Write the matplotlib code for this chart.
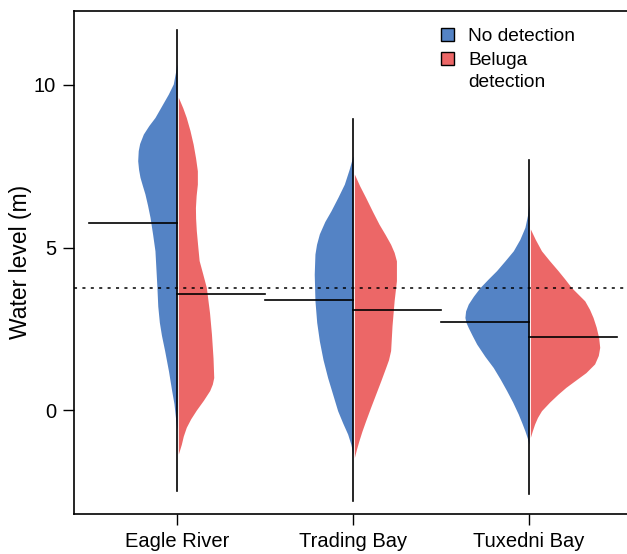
import matplotlib.pyplot as plt
import numpy as np
from matplotlib.patches import Patch

plt.rcParams['font.family'] = ['Liberation Sans', 'DejaVu Sans']

sites = ["Eagle River", "Trading Bay", "Tuxedni Bay"]

# density outlines: water level (m) and half-width (x units)
eagle_no_y = [10.65, 10.4, 10.03, 9.72, 9.35, 9.0, 8.75, 8.49, 8.2, 7.98, 7.67, 7.4, 7.16, 6.9, 6.65,
              6.3, 5.93, 5.4, 4.9, 3.8, 3.2, 2.7, 2.3, 1.83, 1.2, 0.6, 0.2, -0.1, -0.4, -0.6]
eagle_no_w = [0, .008, .021, .049, .088, .125, .160, .191, .212, .220, .223, .218, .210, .196, .182,
              .167, .153, .138, .125, .114, .109, .100, .088, .070, .048, .030, .017, .011, .005, 0]
eagle_bel_y = [9.62, 9.3, 9.0, 8.6, 8.18, 7.75, 7.36, 6.95, 6.6, 6.23, 5.9, 5.52, 5.05, 4.6, 4.2,
               3.77, 3.0, 2.34, 1.6, 1.0, 0.8, 0.6, 0.3, 0.0, -0.27, -0.53, -0.8, -1.05, -1.35]
eagle_bel_w = [0, .025, .045, .066, .084, .098, .108, .108, .101, .097, .098, .102, .110, .118, .138,
               .159, .177, .188, .197, .201, .193, .178, .142, .102, .070, .045, .028, .017, 0]

trading_no_y = [7.82, 7.4, 6.95, 6.55, 6.13, 5.8, 5.42, 5.1, 4.8, 4.18, 3.37, 2.7, 2.13, 1.55, 1.0,
                0.5, -0.02, -0.4, -0.74, -1.05, -1.35]
trading_no_w = [0, .022, .049, .085, .125, .160, .191, .207, .216, .220, .216, .206, .191, .170, .144,
                .116, .087, .058, .030, .012, 0]
trading_bel_y = [7.26, 6.9, 6.54, 6.1, 5.72, 5.4, 5.1, 4.85, 4.59, 3.98, 3.37, 2.6, 1.83, 1.55, 1.31,
                 0.9, 0.49, 0.08, -0.33, -0.65, -0.94, -1.2, -1.46]
trading_bel_w = [0, .030, .064, .104, .140, .175, .206, .226, .239, .239, .226, .214, .206, .194, .178,
                 .150, .121, .092, .064, .043, .026, .012, 0]

tuxedni_no_y = [6.34, 6.0, 5.62, 5.25, 4.9, 4.6, 4.29, 4.03, 3.77, 3.5, 3.26, 3.05, 2.85, 2.7, 2.54,
                2.3, 2.03, 1.65, 1.31, 0.95, 0.6, 0.25, -0.12, -0.4, -0.64, -0.85, -1.05]
tuxedni_no_w = [0, .008, .023, .052, .089, .135, .184, .232, .278, .316, .345, .360, .364, .358, .345,
                .323, .297, .250, .203, .163, .127, .093, .061, .040, .023, .010, 0]
tuxedni_bel_y = [5.57, 5.25, 4.9, 4.6, 4.29, 4.03, 3.77, 3.56, 3.36, 3.1, 2.85, 2.55, 2.23, 1.93, 1.68,
                 1.42, 1.15, 0.9, 0.7, 0.49, 0.25, -0.02, -0.23, -0.43, -0.64, -0.84]
tuxedni_bel_w = [0, .028, .063, .108, .157, .196, .233, .272, .309, .336, .356, .374, .388, .394, .386,
                 .365, .315, .252, .202, .157, .110, .063, .040, .024, .011, 0]

# group means and data ranges
mean_no = [5.76, 3.38, 2.70]
mean_bel = [3.57, 3.08, 2.26]
range_low = [-2.5, -2.8, -2.58]
range_high = [11.7, 8.96, 7.7]
overall_mean = 3.77

blue = '#5483C5'
red = '#EC6767'

outlines = [
    (eagle_no_y, eagle_no_w, eagle_bel_y, eagle_bel_w),
    (trading_no_y, trading_no_w, trading_bel_y, trading_bel_w),
    (tuxedni_no_y, tuxedni_no_w, tuxedni_bel_y, tuxedni_bel_w),
]

fig = plt.figure(figsize=(6.27, 5.54), dpi=100)
ax = fig.add_axes([0.118, 0.072, 0.882, 0.909])

gap = 0.008
for i, (ny, nw, by, bw) in enumerate(outlines):
    c = i + 1
    ny, nw, by, bw = map(np.array, (ny, nw, by, bw))
    ax.fill_betweenx(ny, c - nw, c, color=blue, lw=0)
    ax.fill_betweenx(by, c + gap, c + gap + bw, color=red, lw=0)

ax.axhline(overall_mean, color='black', lw=1.1, ls=(0, (2, 3.5)), zorder=2)

for i in range(3):
    c = i + 1
    ax.plot([c, c], [range_low[i], range_high[i]], color='black', lw=1.2, zorder=3)
    ax.plot([c - 0.5, c], [mean_no[i]] * 2, color='black', lw=1.2, zorder=3)
    ax.plot([c, c + 0.5], [mean_bel[i]] * 2, color='black', lw=1.2, zorder=3)

ax.set_xlim(0.415, 3.557)
ax.set_ylim(-3.2, 12.29)
ax.set_xticks([1, 2, 3])
ax.set_xticklabels(sites)
ax.set_yticks([0, 5, 10])
ax.tick_params(labelsize=14.5, length=8, width=1, pad=5)
ax.set_ylabel("Water level (m)", fontsize=16.5, labelpad=1.5)
ax.spines['right'].set_visible(False)
for s in ['left', 'top', 'bottom']:
    ax.spines[s].set_linewidth(1.2)

handles = [Patch(facecolor=blue, edgecolor='black', lw=1),
           Patch(facecolor=red, edgecolor='black', lw=1)]
leg = ax.legend(handles, ["No detection", "Beluga"], loc='upper left',
                bbox_to_anchor=(0.649, 0.981), frameon=False, fontsize=13.8,
                handlelength=0.7, handleheight=0.7, handletextpad=0.75,
                labelspacing=0.35, borderaxespad=0)
# second line of the wrapped legend label (drawn after the legend)
ax.annotate("detection", xy=(0, 0), xycoords=leg.get_texts()[1],
            xytext=(0, -22), textcoords='offset pixels',
            ha='left', va='bottom', fontsize=13.8, zorder=6)

fig.savefig("out.png", dpi=100)
